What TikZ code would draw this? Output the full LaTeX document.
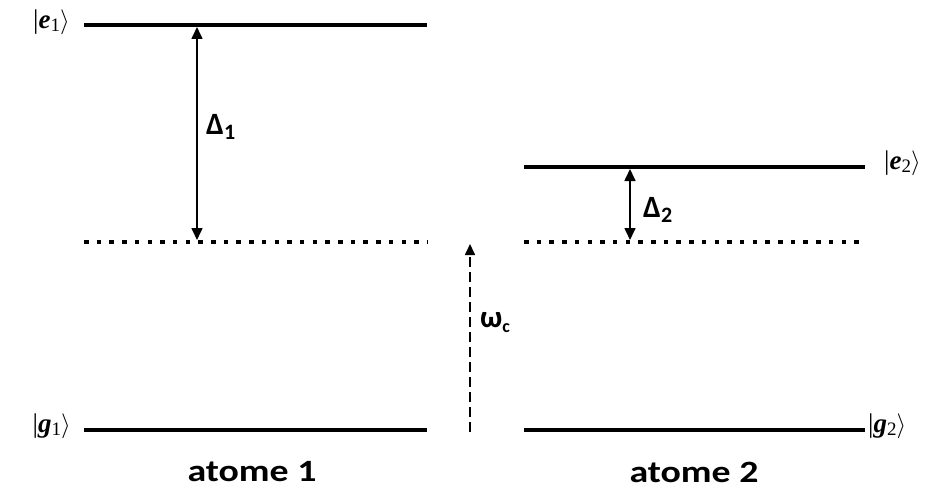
\documentclass[tikz,border=0pt]{standalone}
\usepackage{fontspec}
\setmainfont{Carlito}
\newfontfamily\ketfont{Liberation Serif}
\usetikzlibrary{arrows.meta}
\tikzset{
  level/.style={line width=4pt},
  virt/.style={line width=4.5pt, dash pattern=on 4.5pt off 8.2pt},
  gap/.style={line width=1.6pt, {Triangle[width=11pt,length=12pt]}-{Triangle[width=11pt,length=12pt]}},
  photon/.style={line width=1.6pt, dash pattern=on 10pt off 5pt, -{Triangle[width=10pt,length=11pt]}},
  lbl/.style={font=\fontsize{31}{36}\selectfont\bfseries, inner sep=0pt},
  ket/.style={font=\fontsize{27}{30}\selectfont, inner sep=0pt},
  atomlbl/.style={font=\fontsize{31}{36}\selectfont\bfseries, inner sep=0pt}
}
\newcommand{\mysub}[1]{\raisebox{-3pt}{\fontsize{19}{21}\selectfont #1}}
\newcommand{\widen}[1]{\scalebox{1.22}[1]{#1}}
\begin{document}
\begin{tikzpicture}[x=1pt,y=-1pt]
\useasboundingbox (0,0) rectangle (942,492);
% atom 1
\coordinate (e1l) at (84,25);   \coordinate (e1r) at (427,25);
\coordinate (v1l) at (84,242);  \coordinate (v1r) at (427,242);
\coordinate (g1l) at (84,430);  \coordinate (g1r) at (427,430);
% atom 2
\coordinate (e2l) at (524,167); \coordinate (e2r) at (865,167);
\coordinate (v2l) at (524,242); \coordinate (v2r) at (865,242);
\coordinate (g2l) at (524,430); \coordinate (g2r) at (865,430);
\draw[level] (e1l) -- (e1r);
\draw[virt] (v1l) -- (v1r);
\draw[level] (g1l) -- (g1r);
\draw[level] (e2l) -- (e2r);
\draw[virt] (v2l) -- (v2r);
\draw[level] (g2l) -- (g2r);
% arrows
\coordinate (d1t) at (197,27); \coordinate (d1b) at (197,240);
\draw[gap] (d1t) -- (d1b);
\coordinate (d2t) at (630,169); \coordinate (d2b) at (630,240);
\draw[gap] (d2t) -- (d2b);
\coordinate (wb) at (470,432); \coordinate (wt) at (470,244);
\draw[photon] (wb) -- (wt);
% labels
\node[lbl, anchor=west] (D1) at (206,127) {Δ\raisebox{-5pt}{\fontsize{22}{24}\selectfont 1}};
\node[lbl, anchor=west] (D2) at (643,210) {Δ\raisebox{-5pt}{\fontsize{22}{24}\selectfont 2}};
\node[lbl, anchor=west] (W) at (480,323) {ω\raisebox{-5pt}{\fontsize{18}{20}\selectfont c}};
\node[ket, anchor=east] (k1) at (70,22) {\ketfont|\textit{\textbf{e}}\mysub{1}$\rangle$};
\node[ket, anchor=east] (k2) at (71,426) {\ketfont|\textit{\textbf{g}}\mysub{1}$\rangle$};
\node[ket, anchor=west] (k3) at (884,163) {\ketfont|\textit{\textbf{e}}\mysub{2}$\rangle$};
\node[ket, anchor=west] (k4) at (868,426) {\ketfont|\textit{\textbf{g}}\mysub{2}$\rangle$};
\node[atomlbl] (a1) at (252,472) {\widen{atome 1}};
\node[atomlbl] (a2) at (694,472) {\widen{atome 2}};
\end{tikzpicture}
\end{document}
